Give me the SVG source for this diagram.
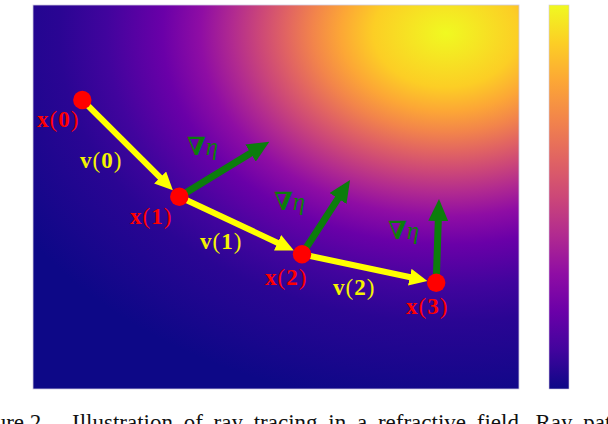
<svg xmlns="http://www.w3.org/2000/svg" width="608" height="424" viewBox="0 0 608 424">
<style>
.lab{font-family:"Liberation Serif","DejaVu Serif",serif;font-size:23px;letter-spacing:1px}
.nab{font-family:"Liberation Serif","DejaVu Serif",serif;font-size:25px}
.red{fill:#ff0000}
.yel{fill:#f4f400}
.grn{fill:#0c7d0c}
.b{font-weight:bold}
.it{font-style:italic}
.ray{stroke:#ffff00;stroke-width:6;fill:none;marker-end:url(#ahY)}
.grad{stroke:#0c7d0c;stroke-width:7;fill:none;marker-end:url(#ahG)}
.pt{fill:#ff0000}
.cap{font-family:"Liberation Serif","Times New Roman",serif;font-size:23px;fill:#111}
</style>
<defs>
<radialGradient id="field" gradientUnits="userSpaceOnUse" cx="0" cy="0" r="1" gradientTransform="translate(446 33) scale(500 373)">
<stop offset="0" stop-color="#f0f921"/>
<stop offset="0.145" stop-color="#fcce25"/>
<stop offset="0.211" stop-color="#fca636"/>
<stop offset="0.267" stop-color="#f2844b"/>
<stop offset="0.320" stop-color="#e16462"/>
<stop offset="0.372" stop-color="#cc4778"/>
<stop offset="0.428" stop-color="#b12a90"/>
<stop offset="0.491" stop-color="#8f0da4"/>
<stop offset="0.567" stop-color="#6a00a8"/>
<stop offset="0.679" stop-color="#41049d"/>
<stop offset="0.774" stop-color="#2a0593"/>
<stop offset="1" stop-color="#0d0887"/>
</radialGradient>
<linearGradient id="cbar" x1="0" y1="0" x2="0" y2="1">
<stop offset="0" stop-color="#f0f921"/>
<stop offset="0.1" stop-color="#fcce25"/>
<stop offset="0.2" stop-color="#fca636"/>
<stop offset="0.3" stop-color="#f2844b"/>
<stop offset="0.4" stop-color="#e16462"/>
<stop offset="0.5" stop-color="#cc4778"/>
<stop offset="0.6" stop-color="#b12a90"/>
<stop offset="0.7" stop-color="#8f0da4"/>
<stop offset="0.8" stop-color="#6a00a8"/>
<stop offset="0.9" stop-color="#41049d"/>
<stop offset="1" stop-color="#0d0887"/>
</linearGradient>
<marker id="ahY" markerUnits="userSpaceOnUse" viewBox="0 0 18 17" markerWidth="18" markerHeight="17" refX="8" refY="8.5" orient="auto">
<path d="M0,0 L18,8.5 L0,17 z" fill="#ffff00"/>
</marker>
<marker id="ahG" markerUnits="userSpaceOnUse" viewBox="0 0 22 20" markerWidth="22" markerHeight="20" refX="10" refY="10" orient="auto">
<path d="M0,0 L22,10 L0,20 z" fill="#0c7d0c"/>
</marker>
</defs>
<rect width="608" height="424" fill="#ffffff"/>
<g id="field-map">
<rect x="33" y="5" width="486" height="384" fill="url(#field)" stroke="#cfcae0" stroke-width="0.8"/>
</g>
<g id="colorbar">
<rect x="549" y="5" width="20" height="384" fill="url(#cbar)" stroke="#cfcae0" stroke-width="0.6"/>
</g>
<g id="connectors">
<line class="ray" x1="82.3" y1="100" x2="165.8" y2="183.2"/>
<line class="ray" x1="179.3" y1="196.7" x2="284.8" y2="246.2"/>
<line class="ray" x1="302" y1="254.2" x2="417.6" y2="278.8"/>
<line class="grad" x1="179.3" y1="196.7" x2="259.1" y2="147.9"/>
<line class="grad" x1="302" y1="254.2" x2="343.5" y2="190.1"/>
<line class="grad" x1="436.2" y1="282.8" x2="438.6" y2="211"/>
</g>
<g id="x0"><circle class="pt" cx="82.3" cy="100" r="9.2"/><text class="lab red" x="37" y="127"><tspan class="b">x</tspan>(<tspan class="b">0</tspan>)</text></g>
<g id="x1"><circle class="pt" cx="179.3" cy="196.7" r="9.2"/><text class="lab red" x="130" y="224"><tspan class="b">x</tspan>(<tspan class="b">1</tspan>)</text></g>
<g id="x2"><circle class="pt" cx="302" cy="254.2" r="9.2"/><text class="lab red" x="265" y="285"><tspan class="b">x</tspan>(<tspan class="b">2</tspan>)</text></g>
<g id="x3"><circle class="pt" cx="436.2" cy="282.8" r="9.2"/><text class="lab red" x="406" y="314"><tspan class="b">x</tspan>(<tspan class="b">3</tspan>)</text></g>
<g id="labels">
<text class="lab yel" x="80" y="168"><tspan class="b">v</tspan>(<tspan class="b">0</tspan>)</text>
<text class="lab yel" x="200" y="249"><tspan class="b">v</tspan>(<tspan class="b">1</tspan>)</text>
<text class="lab yel" x="333" y="295"><tspan class="b">v</tspan>(<tspan class="b">2</tspan>)</text>
<text class="nab grn" x="187" y="155"><tspan class="b">∇</tspan><tspan class="it">η</tspan></text>
<text class="nab grn" x="274" y="210"><tspan class="b">∇</tspan><tspan class="it">η</tspan></text>
<text class="nab grn" x="388" y="239"><tspan class="b">∇</tspan><tspan class="it">η</tspan></text>
</g>
<text class="cap" y="430"><tspan x="-36">Figure 2.</tspan><tspan x="72" word-spacing="5">Illustration of ray tracing in a refractive field. Ray paths</tspan></text>
</svg>
